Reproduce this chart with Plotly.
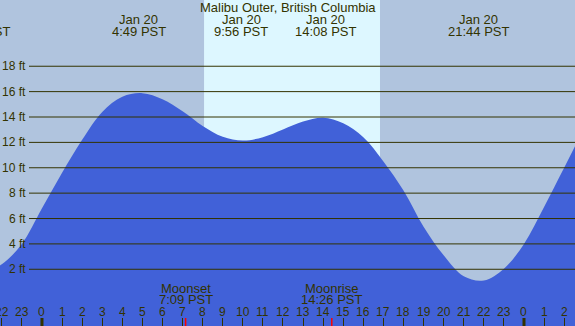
import plotly.graph_objects as go

# ---------------- data ----------------
title_text = "Malibu Outer, British Columbia"

# tide height (ft) at each hour since midnight Jan 20 (PST)
tide_hours = list(range(-4, 29))
tide_ft = [1.95, 1.7, 2.4, 4.0, 6.8, 9.6, 12.2, 14.4, 15.6, 15.88, 15.4,
           14.45, 13.3, 12.45, 12.15, 12.41, 13.02, 13.64, 13.94, 13.5, 12.4,
           10.5, 8.2, 5.35, 3.1, 1.45, 1.12, 2.05, 4.0, 6.9, 10.0, 13.0, 15.2]

extreme_hours = [4.82, 9.93, 14.13, 21.73]
extreme_dates = ["Jan 20", "Jan 20", "Jan 20", "Jan 20"]
extreme_times = ["4:49 PST", "9:56 PST", "14:08 PST", "21:44 PST"]
prev_extreme_hour = -3.12
prev_extreme_date = "Jan 19"
prev_extreme_time = "20:53 PST"

sunrise_hour = 8.07
sunset_hour = 16.83

moon_names = ["Moonset", "Moonrise"]
moon_hours = [7.15, 14.43]
moon_times = ["7:09 PST", "14:26 PST"]

hour_ticks = list(range(-2, 27))
hour_labels = [str(h % 24) for h in hour_ticks]
midnight_hours = [0, 24]

ft_levels = [2, 4, 6, 8, 10, 12, 14, 16, 18]
ft_labels = [f"{v} ft" for v in ft_levels]

# ---------------- styling ----------------
W, H = 575, 326
X_RANGE = [-2.091, 26.54]
Y_RANGE = [-2.47, 23.22]
BG = "#B0C4DE"
DAY = "#DDF7FF"
WATER = "#4161D8"
INK = "#333300"
FONT = "Liberation Sans, Arial, sans-serif"


def py(px):
    """pixel row -> paper y"""
    return 1 - px / H


fig = go.Figure()

# baseline for fill
fig.add_trace(go.Scatter(x=[X_RANGE[0] - 3, X_RANGE[1] + 3], y=[-5, -5],
                         mode="lines", line=dict(width=0), hoverinfo="skip",
                         showlegend=False))
fig.add_trace(go.Scatter(x=tide_hours, y=tide_ft, mode="lines",
                         line=dict(width=0, shape="spline", smoothing=1, color=WATER),
                         fill="tonexty", fillcolor=WATER, hoverinfo="skip",
                         showlegend=False))

shapes = []
# daylight band
shapes.append(dict(type="rect", xref="x", yref="paper", x0=sunrise_hour, x1=sunset_hour,
                   y0=0, y1=1, fillcolor=DAY, line=dict(width=0), layer="below"))
# level lines
for v in ft_levels:
    shapes.append(dict(type="line", xref="paper", yref="y", x0=29 / W, x1=1,
                       y0=v, y1=v, line=dict(color=INK, width=1), layer="above"))
# midnight thick ticks
for h in midnight_hours:
    shapes.append(dict(type="line", xref="x", yref="paper", x0=h, x1=h,
                       y0=0, y1=8 / H, line=dict(color=INK, width=3), layer="above"))
# moon ticks
for h in moon_hours:
    shapes.append(dict(type="line", xref="x", yref="paper", x0=h, x1=h,
                       y0=0, y1=8 / H, line=dict(color="#FF0000", width=1.5), layer="above"))

ann = []
f13 = dict(family=FONT, size=13, color=INK)
f12 = dict(family=FONT, size=12, color=INK)
ann.append(dict(text=title_text, xref="paper", yref="paper", x=0.5, y=py(7.5),
                xanchor="center", yanchor="middle", showarrow=False, font=f13))
for h, d, t in zip(extreme_hours, extreme_dates, extreme_times):
    ann.append(dict(text=d, xref="x", yref="paper", x=h, y=py(19.5),
                    xanchor="center", yanchor="middle", showarrow=False, font=f13))
    ann.append(dict(text=t, xref="x", yref="paper", x=h, y=py(31.3),
                    xanchor="center", yanchor="middle", showarrow=False, font=f13))
# previous (off-screen) extreme, partly visible at left edge
px_prev = (prev_extreme_hour - X_RANGE[0]) / (X_RANGE[1] - X_RANGE[0])
ann.append(dict(text=prev_extreme_date, xref="paper", yref="paper", x=px_prev, y=py(19.5),
                xanchor="center", yanchor="middle", showarrow=False, font=f13))
ann.append(dict(text=prev_extreme_time, xref="paper", yref="paper", x=px_prev, y=py(31.3),
                xanchor="center", yanchor="middle", showarrow=False, font=f13))
# y labels
for v, lab in zip(ft_levels, ft_labels):
    ann.append(dict(text=lab, xref="paper", yref="y", x=27.5 / W, y=v,
                    xanchor="right", yanchor="middle", showarrow=False, font=f12))
# moon labels
for h, n, t in zip(moon_hours, moon_names, moon_times):
    ann.append(dict(text=n, xref="x", yref="paper", x=h, y=py(288),
                    xanchor="center", yanchor="middle", showarrow=False, font=f13))
    ann.append(dict(text=t, xref="x", yref="paper", x=h, y=py(299),
                    xanchor="center", yanchor="middle", showarrow=False, font=f13))
# hour labels
for h, lab in zip(hour_ticks, hour_labels):
    ann.append(dict(text=lab, xref="x", yref="paper", x=h, y=py(312),
                    xanchor="center", yanchor="middle", showarrow=False, font=f12))

fig.update_layout(
    width=W, height=H, margin=dict(l=0, r=0, t=0, b=0),
    paper_bgcolor=BG, plot_bgcolor=BG,
    shapes=shapes, annotations=ann, showlegend=False,
    xaxis=dict(range=X_RANGE, showgrid=False, zeroline=False, showline=False,
               tickvals=hour_ticks, ticks="inside", ticklen=8, tickwidth=1,
               tickcolor=INK, showticklabels=False, fixedrange=True),
    yaxis=dict(range=Y_RANGE, showgrid=False, zeroline=False, showline=False,
               showticklabels=False, fixedrange=True),
)

fig.write_html("out.html", config={"displayModeBar": False},
               post_script="document.body.style.margin='0';document.body.style.overflow='hidden';")
